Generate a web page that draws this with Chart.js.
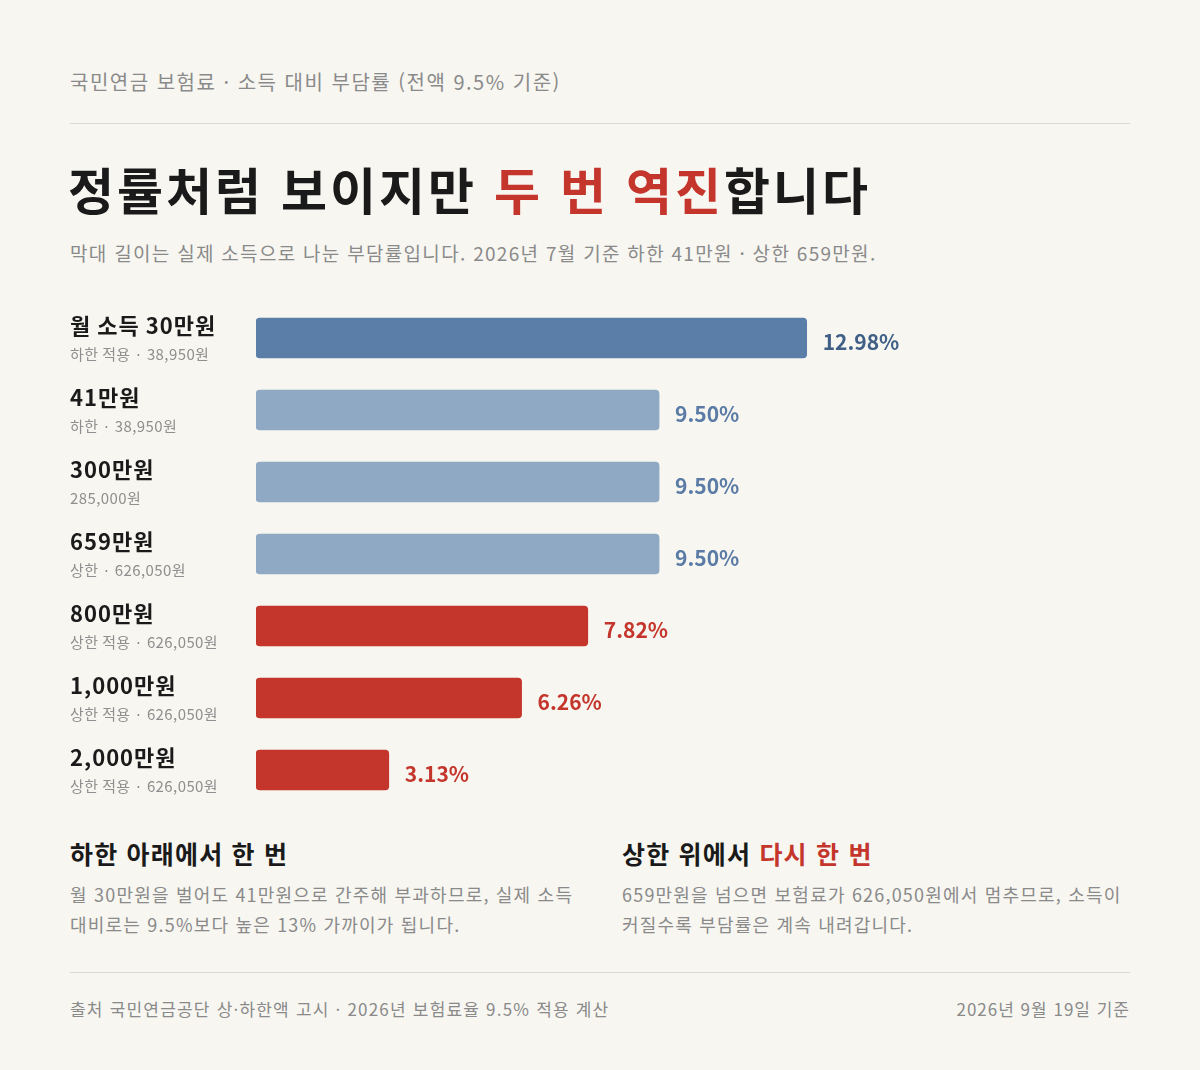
<!DOCTYPE html>
<html lang="ko">
<head>
<meta charset="utf-8">
<script src="https://cdn.jsdelivr.net/npm/chart.js@4.4.1/dist/chart.umd.min.js"></script>
<style>
  * { box-sizing: border-box; margin: 0; padding: 0; }
  body {
    width: 1200px; height: 1070px; background: #f7f6f1;
    font-family: "Noto Sans CJK KR", "Noto Sans", sans-serif; color: #1a1a1a;
    position: relative; overflow: hidden;
  }
  .kicker { position: absolute; left: 70px; top: 67px; font-size: 20px; color: #8a8a8a; letter-spacing: 1.5px; }
  .rule { position: absolute; left: 70px; width: 1060px; height: 1px; background: #dcdad4; }
  h1 { position: absolute; left: 68px; top: 158px; font-size: 50px; font-weight: 700; letter-spacing: 3px; line-height: 1.2; }
  .red { color: #c4352b; }
  .sub { position: absolute; left: 70px; top: 239px; font-size: 19px; color: #8a8a8a; letter-spacing: 1.3px; }
  #wrap { position: absolute; left: 70px; top: 302px; width: 1060px; height: 504px; }
  .col { position: absolute; top: 835px; width: 540px; }
  .col h3 { font-size: 25px; font-weight: 700; line-height: 36px; letter-spacing: 1.2px; }
  .col p { font-size: 18px; line-height: 30px; color: #8a8a8a; margin-top: 8px; letter-spacing: 1.2px; }
  .foot { position: absolute; top: 996px; font-size: 17px; color: #8a8a8a; letter-spacing: 1.2px; }
</style>
</head>
<body>
<div class="kicker">국민연금 보험료 · 소득 대비 부담률 (전액 9.5% 기준)</div>
<div class="rule" style="top:123px"></div>
<h1>정률처럼 보이지만 <span class="red">두 번 역진</span>합니다</h1>
<div class="sub">막대 길이는 실제 소득으로 나눈 부담률입니다. 2026년 7월 기준 하한 41만원 · 상한 659만원.</div>
<div id="wrap"><canvas id="c"></canvas></div>
<div class="col" style="left:70px">
  <h3>하한 아래에서 한 번</h3>
  <p>월 30만원을 벌어도 41만원으로 간주해 부과하므로, 실제 소득<br>대비로는 9.5%보다 높은 13% 가까이가 됩니다.</p>
</div>
<div class="col" style="left:622px">
  <h3>상한 위에서 <span class="red">다시 한 번</span></h3>
  <p>659만원을 넘으면 보험료가 626,050원에서 멈추므로, 소득이<br>커질수록 부담률은 계속 내려갑니다.</p>
</div>
<div class="rule" style="top:972px"></div>
<div class="foot" style="left:70px">출처 국민연금공단 상·하한액 고시 · 2026년 보험료율 9.5% 적용 계산</div>
<div class="foot" style="right:70px; letter-spacing:1px">2026년 9월 19일 기준</div>

<script>
const incomes = ['월 소득 30만원', '41만원', '300만원', '659만원', '800만원', '1,000만원', '2,000만원'];
const notes = ['하한 적용 · 38,950원', '하한 · 38,950원', '285,000원', '상한 · 626,050원',
  '상한 적용 · 626,050원', '상한 적용 · 626,050원', '상한 적용 · 626,050원'];
const rates = [12.98, 9.50, 9.50, 9.50, 7.82, 6.26, 3.13];
const barColors = ['#5b7ea8', '#8fa8c4', '#8fa8c4', '#8fa8c4', '#c4352b', '#c4352b', '#c4352b'];
const valueColors = ['#3f5f86', '#5a7ba5', '#5a7ba5', '#5a7ba5', '#c4352b', '#c4352b', '#c4352b'];

const FONT = '"Noto Sans CJK KR", "Noto Sans", sans-serif';

// row labels on the left + value labels after each bar
const labelPlugin = {
  id: 'rowLabels',
  afterDatasetsDraw(chart) {
    const ctx = chart.ctx;
    const y = chart.scales.y;
    const meta = chart.getDatasetMeta(0);
    ctx.save();
    ctx.textBaseline = 'middle';
    incomes.forEach((name, i) => {
      const cy = y.getPixelForValue(i);
      ctx.textAlign = 'left';
      ctx.fillStyle = '#1a1a1a';
      ctx.font = `700 22px ${FONT}`;
      ctx.letterSpacing = '1px';
      ctx.fillText(name, 0, cy - 12);
      ctx.fillStyle = '#8f8f8f';
      ctx.font = `400 15px ${FONT}`;
      ctx.letterSpacing = '0.4px';
      ctx.fillText(notes[i], 0, cy + 16);

      const bar = meta.data[i];
      ctx.fillStyle = valueColors[i];
      ctx.font = `700 21px ${FONT}`;
      ctx.letterSpacing = '0px';
      ctx.fillText(rates[i].toFixed(2) + '%', bar.x + 16, cy + 4);
    });
    ctx.restore();
  }
};

new Chart(document.getElementById('c'), {
  type: 'bar',
  data: {
    labels: incomes,
    datasets: [{
      data: rates,
      backgroundColor: barColors,
      borderRadius: 4,
      borderSkipped: false,
      barThickness: 40
    }]
  },
  options: {
    indexAxis: 'y',
    responsive: true,
    maintainAspectRatio: false,
    animation: false,
    layout: { padding: { left: 186, right: 0, top: 0, bottom: 0 } },
    plugins: { legend: { display: false }, tooltip: { enabled: false } },
    scales: {
      x: { display: false, min: 0, max: 20.6 },
      y: { display: false }
    }
  },
  plugins: [labelPlugin]
});
</script>
</body>
</html>
